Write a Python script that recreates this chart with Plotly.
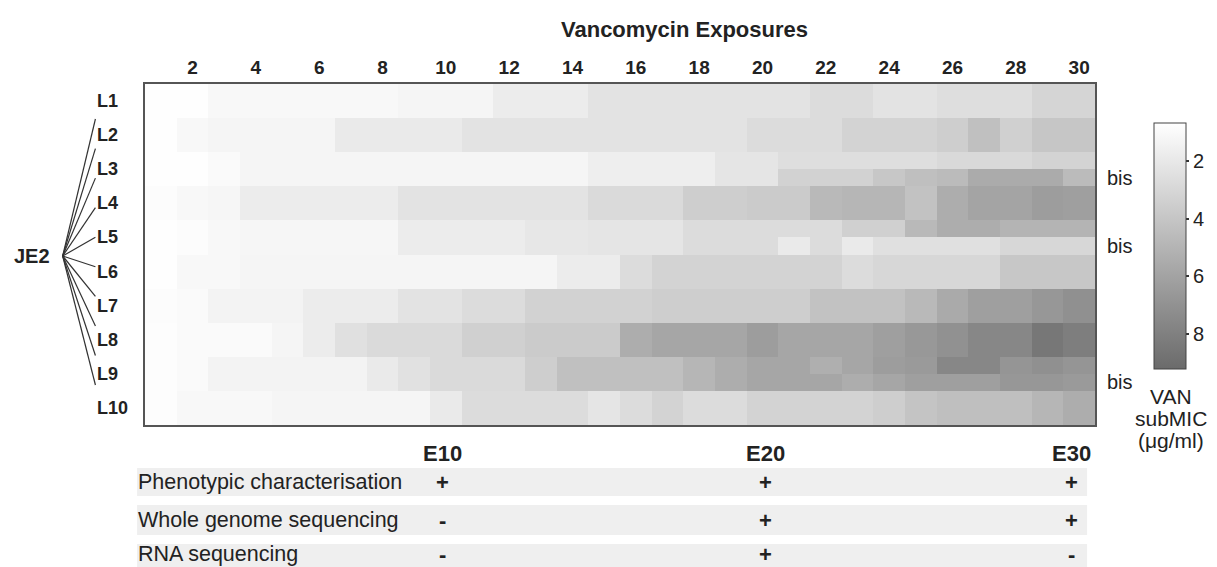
import plotly.graph_objects as go

# ---------------- data ----------------
exposures = list(range(1, 31))
lineages = ["L1", "L2", "L3", "L4", "L5", "L6", "L7", "L8", "L9", "L10"]

L1 = [0.75, 0.75, 1.1, 1.1, 1.1, 1.1, 1.1, 1.1, 1.3, 1.3, 1.3, 1.8, 1.8, 1.8, 2.3,
      2.3, 2.3, 2.3, 2.3, 2.3, 2.3, 2.7, 2.7, 2.3, 2.3, 2.6, 2.6, 2.6, 3.1, 3.1]
L2 = [0.75, 1.1, 1.3, 1.3, 1.3, 1.3, 1.9, 1.9, 1.9, 1.9, 2.3, 2.3, 2.3, 2.3, 2.3,
      2.3, 2.3, 2.3, 2.3, 2.7, 2.7, 2.7, 3.2, 3.2, 3.2, 3.5, 4.3, 3.4, 4.0, 4.0]
L3 = [0.75, 0.75, 1.0, 1.3, 1.3, 1.3, 1.3, 1.3, 1.3, 1.3, 1.3, 1.3, 1.3, 1.3, 1.7,
      1.7, 1.7, 1.7, 2.2, 2.2, 2.6, 2.6, 2.6, 2.6, 2.6, 2.9, 2.9, 2.9, 3.2, 3.2]
L4 = [0.9, 1.1, 1.2, 1.8, 1.8, 1.8, 1.8, 1.8, 2.3, 2.3, 2.3, 2.3, 2.3, 2.3, 2.8,
      2.8, 2.8, 3.5, 3.5, 3.7, 3.7, 4.7, 4.9, 4.9, 4.2, 5.4, 5.9, 5.9, 6.3, 6.2]
L5 = [0.75, 0.9, 1.1, 1.2, 1.2, 1.2, 1.2, 1.2, 1.8, 1.8, 1.8, 1.8, 2.1, 2.1, 2.2,
      2.2, 2.2, 2.7, 2.7, 2.7, 2.7, 2.7, 3.4, 3.4, 4.7, 5.4, 5.4, 5.0, 5.0, 5.0]
L6 = [0.75, 1.1, 1.1, 1.3, 1.3, 1.3, 1.3, 1.3, 1.3, 1.3, 1.3, 1.3, 1.3, 1.8, 1.8,
      2.7, 3.2, 3.2, 3.2, 3.2, 3.2, 3.2, 2.7, 3.0, 3.0, 3.0, 3.0, 3.9, 3.9, 3.9]
L7 = [0.85, 1.0, 1.4, 1.4, 1.4, 1.8, 1.8, 1.8, 2.3, 2.3, 2.7, 2.7, 3.3, 3.3, 3.3,
      3.3, 3.5, 3.5, 3.5, 3.5, 3.5, 4.2, 4.2, 4.2, 4.7, 5.6, 6.2, 6.2, 6.7, 7.1]
L8 = [0.8, 1.0, 1.0, 1.0, 1.3, 1.8, 2.5, 2.8, 2.8, 2.8, 3.4, 3.4, 3.7, 3.7, 3.7,
      5.4, 5.8, 5.8, 5.8, 6.3, 5.8, 5.8, 5.8, 6.2, 6.6, 7.0, 7.6, 7.6, 8.5, 8.1]
L9 = [0.8, 1.0, 1.4, 1.4, 1.4, 1.4, 1.4, 1.9, 2.4, 2.8, 2.8, 2.8, 3.5, 4.3, 4.3,
      4.3, 4.3, 4.9, 5.4, 5.8, 5.8, 5.3, 5.8, 6.3, 6.5, 7.6, 7.6, 6.8, 7.1, 6.8]
L10 = [0.8, 1.1, 1.1, 1.1, 1.3, 1.3, 1.3, 1.3, 1.3, 1.9, 2.7, 2.7, 2.7, 2.7, 2.2,
       2.7, 3.2, 2.7, 2.7, 3.2, 3.2, 3.2, 3.2, 3.5, 4.1, 4.4, 4.4, 4.4, 4.9, 5.4]

# "bis" sub-lineages (lower half of the row), from the given exposure onward
L3_bis_start = 21
L3_bis = [3.3, 3.3, 3.3, 3.9, 4.4, 4.6, 5.5, 5.5, 5.5, 4.6]
L5_bis_start = 21
L5_bis = [1.9, 2.7, 1.9, 2.5, 2.5, 2.5, 2.5, 3.0, 3.0, 3.0]
L9_bis_start = 22
L9_bis = [5.8, 5.4, 5.8, 6.2, 6.2, 6.2, 6.7, 6.7, 6.5]

colorbar_ticks = [2, 4, 6, 8]
colorbar_title = ["VAN", "subMIC", "(\u03bcg/ml)"]

table_rows = ["Phenotypic characterisation", "Whole genome sequencing", "RNA sequencing"]
table_exposures = [10, 20, 30]
table_cols = ["E10", "E20", "E30"]
table_marks = [["+", "+", "+"],
               ["-", "+", "+"],
               ["-", "+", "-"]]

# ---------------- build matrix (two sub-rows per lineage) ----------------
main_rows = [L1, L2, L3, L4, L5, L6, L7, L8, L9, L10]
bis = {3: (L3_bis_start, L3_bis), 5: (L5_bis_start, L5_bis), 9: (L9_bis_start, L9_bis)}

z, yvals = [], []
for i, row in enumerate(main_rows, start=1):
    lower = list(row)
    if i in bis:
        start, vals = bis[i]
        for k, v in enumerate(vals):
            lower[start - 1 + k] = v
    z.append([-v for v in row])
    z.append([-v for v in lower])
    yvals += [i - 0.25, i + 0.25]

ZMIN, ZMAX = 0.7, 9.2

# ---------------- geometry helpers ----------------
W, H = 1217, 567
PL, PR, PT, PB = 145, 1103, 84, 425
def px(x):
    return (x - PL) / (PR - PL)
def py(y):
    return (PB - y) / (PB - PT)

FONT = "Liberation Sans, Arial, sans-serif"
TXT = "#222222"

fig = go.Figure()
fig.add_trace(go.Heatmap(
    x=exposures, y=yvals, z=z,
    zmin=-ZMAX, zmax=-ZMIN,
    colorscale=[[0, "#6b6b6b"], [1, "#ffffff"]],
    xgap=0, ygap=0,
    colorbar=dict(
        x=px(1162), xanchor="left", xpad=0,
        y=py(123), yanchor="top", ypad=0,
        len=246, lenmode="pixels",
        thickness=32, thicknessmode="pixels",
        outlinewidth=1, outlinecolor="#444444",
        tickvals=[-t for t in colorbar_ticks],
        ticktext=[str(t) for t in colorbar_ticks],
        ticks="outside", ticklen=3, tickwidth=2, tickcolor="#333333",
        tickfont=dict(size=20, color=TXT, family=FONT),
    ),
    hoverinfo="skip",
))

fig.update_layout(
    width=W, height=H,
    margin=dict(l=PL, r=W - PR, t=PT, b=H - PB, pad=0),
    paper_bgcolor="white", plot_bgcolor="white",
    font=dict(family=FONT, color=TXT),
    xaxis=dict(range=[0.5, 30.5], side="top", tickvals=exposures[1::2],
               ticks="", showgrid=False, zeroline=False,
               showline=True, mirror=True, linecolor="#555555", linewidth=2,
               tickfont=dict(size=19, color=TXT, family=FONT, weight="bold")),
    yaxis=dict(range=[10.5, 0.5], showticklabels=False, ticks="",
               showgrid=False, zeroline=False,
               showline=True, mirror=True, linecolor="#555555", linewidth=2),
)

ann = []
shapes = []
# title
ann.append(dict(text="Vancomycin Exposures", xref="paper", yref="paper",
                x=px(689), y=py(30), showarrow=False, xanchor="center", yanchor="middle",
                font=dict(size=22, weight="bold", color=TXT, family=FONT)))
# row labels
for i, lab in enumerate(lineages, start=1):
    ann.append(dict(text=lab, xref="paper", yref="y", x=px(95), y=i,
                    showarrow=False, xanchor="left", yanchor="middle",
                    font=dict(size=18, weight="bold", color=TXT, family=FONT)))
# JE2 + fan lines
ann.append(dict(text="JE2", xref="paper", yref="paper", x=px(11), y=py(256),
                showarrow=False, xanchor="left", yanchor="middle",
                font=dict(size=20, weight="bold", color=TXT, family=FONT)))
n = len(lineages)
for i in range(n):
    yend = 119 + (385 - 119) * i / (n - 1)
    shapes.append(dict(type="line", xref="paper", yref="paper",
                       x0=px(62), y0=py(256), x1=px(95), y1=py(yend),
                       line=dict(color="#333333", width=1.2)))
# bis labels
for i in bis:
    ann.append(dict(text="bis", xref="paper", yref="y", x=px(1113), y=i + 0.25,
                    showarrow=False, xanchor="left", yanchor="middle",
                    font=dict(size=20, color=TXT, family=FONT)))
# colorbar title
for k, t in enumerate(colorbar_title):
    ann.append(dict(text=t, xref="paper", yref="paper", x=px(1180), y=py(396 + 22 * k),
                    showarrow=False, xanchor="center", yanchor="middle",
                    font=dict(size=21, color=TXT, family=FONT)))

# bottom table
band_y = [(468, 496), (505, 535), (544, 574)]
text_y = [482, 520, 554]
for r, (y0, y1) in enumerate(band_y):
    shapes.append(dict(type="rect", xref="paper", yref="paper",
                       x0=px(137), x1=px(1095), y0=py(y1), y1=py(y0),
                       fillcolor="#efefef", line=dict(width=0), layer="below"))
    ann.append(dict(text=table_rows[r], xref="paper", yref="paper", x=px(136),
                    y=py(text_y[r]), showarrow=False,
                    xanchor="left", yanchor="middle",
                    font=dict(size=21.5, color=TXT, family=FONT)))
col_shift = [-0.1, 0.1, -0.25]
for c, e in enumerate(table_exposures):
    xe = e + col_shift[c]
    ann.append(dict(text=table_cols[c], xref="x", yref="paper", x=xe, y=py(453),
                    showarrow=False, xanchor="center", yanchor="middle",
                    font=dict(size=22, weight="bold", color=TXT, family=FONT)))
    for r in range(len(table_rows)):
        ann.append(dict(text=table_marks[r][c], xref="x", yref="paper", x=xe,
                        y=py(text_y[r]), showarrow=False,
                        xanchor="center", yanchor="middle",
                        font=dict(size=22, weight="bold", color=TXT, family=FONT)))

fig.update_layout(annotations=ann, shapes=shapes)
fig.write_html("out.html")
